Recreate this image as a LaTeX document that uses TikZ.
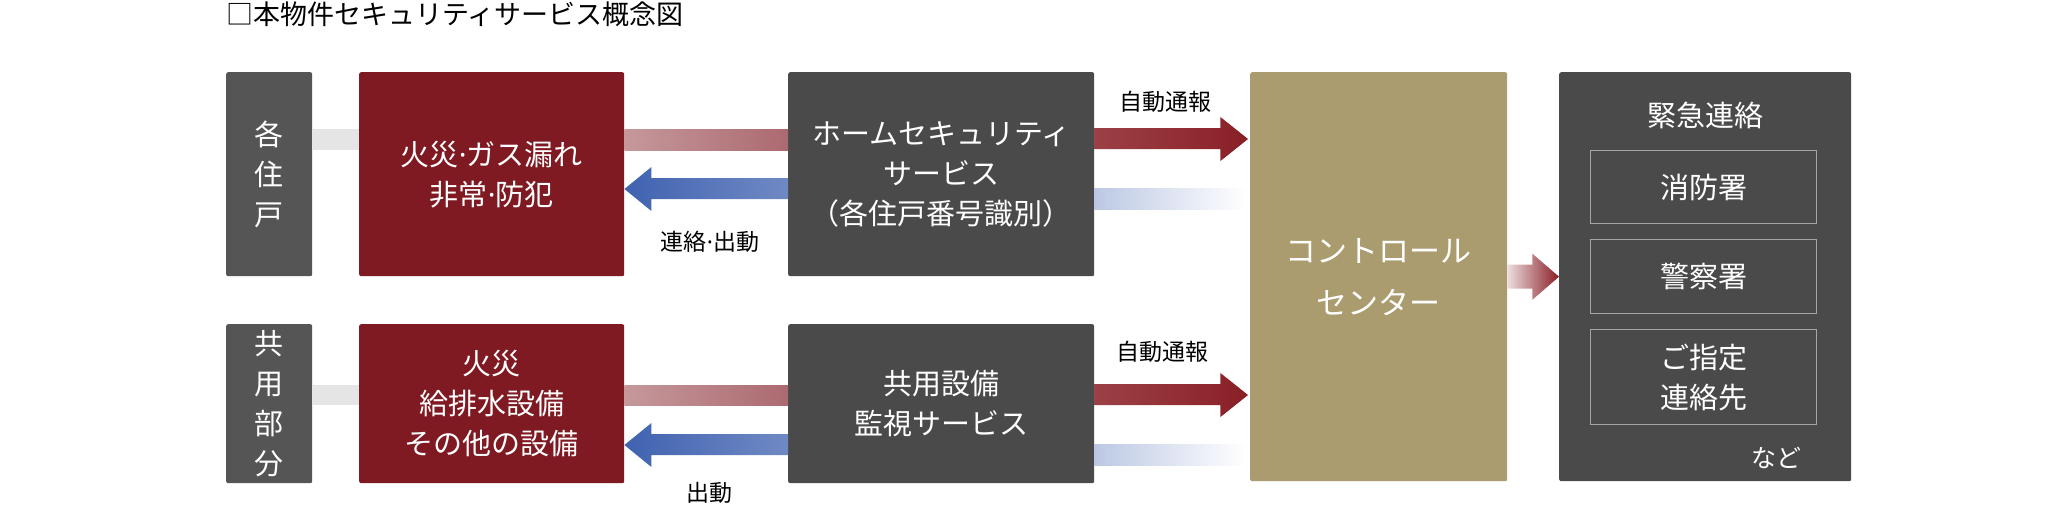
\documentclass[tikz,border=0pt]{standalone}
\usepackage{fontspec}
\setmainfont{Noto Sans CJK JP}
\newfontfamily\latinf{Noto Sans}
\newcommand{\md}{{\latinf ·}}
\usetikzlibrary{calc}
\definecolor{dg}{HTML}{4A4A4A}
\definecolor{sg}{HTML}{555555}
\definecolor{rd}{HTML}{7F1A22}
\definecolor{tan}{HTML}{AB9C70}
\definecolor{blu}{HTML}{4062B0}
\definecolor{ar}{HTML}{8A1F26}
\tikzset{
 box/.style={anchor=north west,inner sep=0pt,rounded corners=2pt,text=white,align=center,font=\fontsize{29pt}{40pt}\selectfont},
 lbl/.style={font=\fontsize{23pt}{26pt}\selectfont,inner sep=0pt},
 inner/.style={draw=gray!70,line width=1.2pt,fill=dg,text=white,inner sep=0pt,align=center,font=\fontsize{29pt}{40pt}\selectfont},
}
\newcommand{\boxat}[6]{\node[box,fill=#2,minimum width=#5pt,minimum height=#6pt] (#1) at (#3,#4) {};}
\begin{document}
\begin{tikzpicture}[x=1pt,y=-1pt]
\useasboundingbox[fill=white] (0,0) rectangle (2066,504);
\node[anchor=north west,inner sep=0pt,font=\fontsize{27pt}{30pt}\selectfont] (title) at (226,2) {□本物件セキュリティサービス概念図};
% boxes
\boxat{u1}{sg}{226}{72}{86}{204}
\boxat{r1}{rd}{359}{72}{265}{204}
\boxat{h1}{dg}{788}{72}{306}{204}
\boxat{u2}{sg}{226}{324}{86}{159}
\boxat{r2}{rd}{359}{324}{265}{159}
\boxat{h2}{dg}{788}{324}{306}{159}
\boxat{cc}{tan}{1250}{72}{257}{409}
\boxat{em}{dg}{1559}{72}{292}{409}
% texts
\node[box,anchor=center] at (u1.center) {各\\住\\戸};
\node[box,anchor=center] at (u2.center) {共\\用\\部\\分};
\node[box,anchor=center] at (r1.center) {火災\md ガス漏れ\\非常\md 防犯};
\node[box,anchor=center] at (r2.center) {火災\\給排水設備\\その他の設備};
\node[box,anchor=center] at (h1.center) {ホームセキュリティ\\サービス\\（各住戸番号識別）};
\node[box,anchor=center] at (h2.center) {共用設備\\監視サービス};
\node[box,anchor=center,font=\fontsize{31pt}{52pt}\selectfont] at (cc.center) {コントロール\\センター};
\node[box,anchor=center] (emt) at ($(em.north)+(0,43)$) {緊急連絡};
\node[inner,anchor=north west,minimum width=226pt,minimum height=73pt] (i1) at (1590,150) {消防署};
\node[inner,anchor=north west,minimum width=226pt,minimum height=74pt] (i2) at (1590,239) {警察署};
\node[inner,anchor=north west,minimum width=226pt,minimum height=95pt] (i3) at (1590,329) {ご指定\\連絡先};
\node[box,anchor=center,font=\fontsize{25pt}{30pt}\selectfont] (etc) at (1776,458) {など};
% connectors
\fill[gray!20] ($(u1.north east)+(0,57)$) rectangle ($(r1.north west)+(0,78)$);
\fill[gray!20] ($(u2.north east)+(0,61)$) rectangle ($(r2.north west)+(0,81)$);
\shade[left color=rd!45,right color=rd!65] ($(r1.north east)+(0,57)$) rectangle ($(h1.north west)+(0,78)$);
\shade[left color=rd!45,right color=rd!65] ($(r2.north east)+(0,61)$) rectangle ($(h2.north west)+(0,81)$);
% blue arrows
\foreach \r/\h/\y in {r1/h1/117,r2/h2/121}{
 \shade[left color=blu,right color=blu!75]
   ($(\r.north east)+(0,\y)$) -- ($(\r.north east)+(27,\y-22)$) -- ($(\r.north east)+(27,\y-11)$)
   -- ($(\h.north west)+(0,\y-11)$) -- ($(\h.north west)+(0,\y+10)$) -- ($(\r.north east)+(27,\y+10)$)
   -- ($(\r.north east)+(27,\y+22)$) -- cycle;
}
\node[lbl] at (710,242) {連絡\md 出動};
\node[lbl] at (709,493) {出動};
% red arrows
\foreach \h/\y in {h1/67,h2/71}{
 \shade[left color=ar!85,right color=ar]
   ($(\h.north east)+(0,\y-11)$) -- ($(\h.north east)+(126,\y-11)$) -- ($(\h.north east)+(126,\y-22)$)
   -- ($(cc.west |- \h.north)+(-2,\y)$) -- ($(\h.north east)+(126,\y+22)$) -- ($(\h.north east)+(126,\y+10)$)
   -- ($(\h.north east)+(0,\y+10)$) -- cycle;
 \shade[left color=blu!35,right color=white] ($(\h.north east)+(0,\y+49)$) rectangle ($(cc.west |- \h.north)+(-4,\y+70)$);
}
\node[lbl] at (1165,102) {自動通報};
\node[lbl] at (1162,352) {自動通報};
% center to emergency
\shade[left color=rd!15,right color=ar]
 ($(cc.east)+(0,-12)$) -- ($(cc.east)+(25,-12)$) -- ($(cc.east)+(25,-23)$) -- ($(em.west)+(0,0)$)
 -- ($(cc.east)+(25,23)$) -- ($(cc.east)+(25,12)$) -- ($(cc.east)+(0,12)$) -- cycle;
\end{tikzpicture}
\end{document}
